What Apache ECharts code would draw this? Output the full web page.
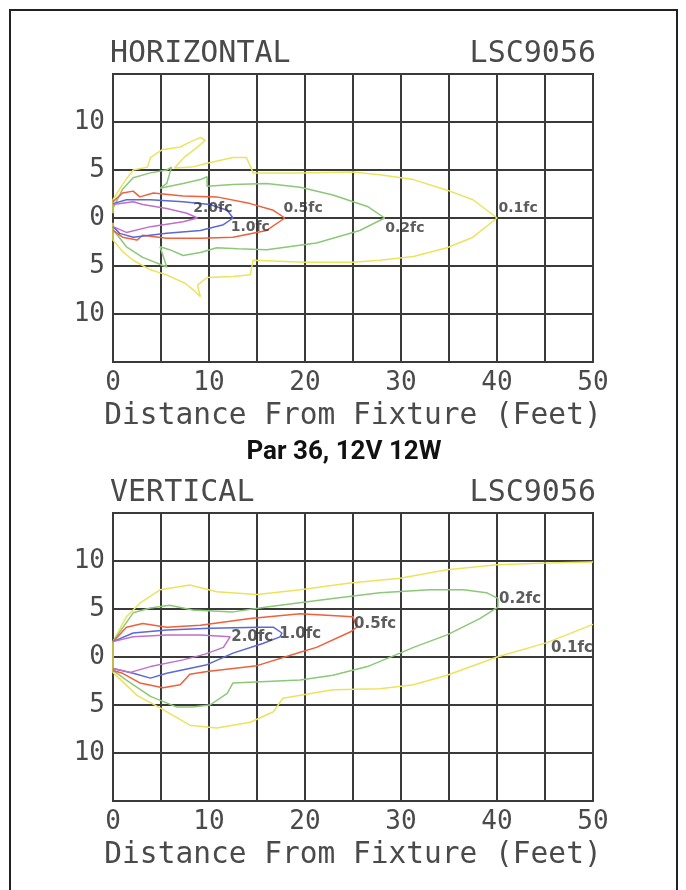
<!DOCTYPE html>
<html>
<head>
<meta charset="utf-8">
<script src="https://cdn.jsdelivr.net/npm/echarts@6/dist/echarts.min.js"></script>
<style>
html,body{margin:0;padding:0;background:#fff;}
#chart{width:686px;height:890px;}
</style>
</head>
<body>
<div id="chart"></div>
<script>
// ---------- DATA ----------
var xTicks = [0, 10, 20, 30, 40, 50];
var yRange = [-15, 15];

// HORIZONTAL (top) contours: upper and lower branches, outward order [distance, offset]
var hYellowUpper = [[0,0.5],[0,1.9],[1.0,3.5],[2.1,5.0],[3.6,5.3],[3.9,6.3],[5.1,7.1],[7.0,7.4],[8.0,7.9],[9.1,8.4],[9.6,8.1],[8.7,7.3],[7.5,6.4],[6.4,5.2],[8.2,5.3],[9.8,5.7],[12.5,6.3],[13.9,6.3],[14.6,4.7],[19.5,4.7],[25.0,4.8],[27.8,4.5],[31.3,4.0],[34.8,2.9],[37.5,1.9],[40.0,0]];
var hYellowLower = [[0,-0.5],[0,-2.3],[1.0,-3.5],[2.1,-4.4],[3.9,-5.4],[5.5,-5.9],[7.5,-6.8],[8.5,-7.6],[9.1,-8.2],[8.8,-7.0],[9.8,-6.2],[12.5,-6.1],[14.3,-5.9],[14.6,-4.4],[20.0,-4.6],[25.0,-4.6],[27.8,-4.4],[31.3,-4.0],[34.8,-3.1],[37.5,-2.0],[40.0,0]];
var hGreenUpper = [[0,1.0],[1.0,3.0],[2.1,4.2],[3.9,4.7],[5.6,5.0],[6.1,5.3],[5.6,3.6],[4.9,3.1],[7.3,3.6],[9.1,4.0],[9.8,4.3],[9.8,3.3],[12.5,3.5],[16.0,3.6],[19.5,3.2],[22.9,2.4],[26.5,1.2],[28.3,0]];
var hGreenLower = [[0,-1.2],[1.4,-3.0],[3.1,-4.1],[5.6,-5.1],[4.9,-3.0],[5.9,-3.3],[7.3,-3.9],[9.1,-3.6],[10.8,-3.1],[13.0,-3.2],[16.0,-3.3],[21.2,-2.6],[25.7,-1.3],[28.3,0]];
var hRedUpper = [[0,1.7],[1.0,2.6],[2.1,2.8],[2.8,2.2],[4.2,2.6],[7.3,2.3],[10.8,2.2],[14.3,1.5],[16.7,0.8],[17.9,0]];
var hRedLower = [[0,-1.3],[1.0,-2.0],[2.5,-2.3],[3.1,-1.8],[5.6,-2.1],[9.1,-2.1],[12.5,-2.0],[16.0,-1.3],[17.9,0]];
var hBlueUpper = [[0,1.5],[1.4,1.9],[3.9,1.9],[7.3,1.7],[10.1,1.4],[11.9,0.8],[12.5,0]];
var hBlueLower = [[0,-0.9],[0.7,-1.6],[2.1,-2.0],[5.6,-1.6],[9.1,-1.3],[11.5,-0.7],[12.5,0]];
var hPurpleUpper = [[0,1.4],[2.1,1.7],[3.1,1.4],[5.6,1.0],[7.7,0.5],[8.8,0]];
var hPurpleLower = [[0,-0.9],[1.4,-1.5],[3.9,-0.9],[7.3,-0.4],[8.8,0]];
var hLabels = [[10.4,1.05,'2.0fc'],[14.3,-0.95,'1.0fc'],[19.8,1.05,'0.5fc'],[30.4,-1.05,'0.2fc'],[42.2,1.05,'0.1fc']];

// VERTICAL (bottom) contours
var vYellowUpper = [[0,1.6],[1.4,4.2],[2.8,5.6],[4.9,7.0],[8.0,7.5],[10.8,6.8],[15.0,6.5],[19.5,7.0],[24.7,7.7],[29.9,8.2],[34.8,9.1],[40.0,9.6],[45.2,9.8],[50.0,9.9]];
var vYellowLower = [[0,-1.6],[2.5,-4.0],[4.9,-5.3],[8.0,-7.1],[10.8,-7.4],[14.3,-6.8],[16.7,-5.7],[17.7,-4.3],[22.9,-3.4],[27.8,-3.3],[31.3,-2.9],[34.8,-1.9],[40.0,0],[45.2,1.5],[50.0,3.4]];
var vGreenUpper = [[0,1.6],[2.1,4.6],[3.9,5.1],[5.9,5.4],[8.3,4.9],[12.5,4.7],[16.0,5.2],[22.9,6.1],[27.8,6.7],[33.0,7.0],[36.5,7.0],[38.9,6.7],[40.1,6.1],[40.1,5.2]];
var vGreenLower = [[0,-1.4],[1.4,-2.4],[3.9,-4.1],[6.6,-5.2],[8.3,-5.2],[10.1,-5.0],[11.9,-3.8],[12.5,-2.7],[19.5,-2.4],[22.9,-1.9],[26.5,-1.0],[29.9,0.4],[31.3,1.0],[34.8,2.3],[38.2,4.0],[40.1,5.2]];
var vRedUpper = [[0,1.6],[1.4,3.1],[3.1,3.5],[5.6,3.1],[9.1,3.3],[14.3,4.0],[19.5,4.5],[25.0,4.2],[25.4,3.1]];
var vRedLower = [[0,-1.4],[1.0,-1.7],[2.8,-2.7],[5.2,-3.2],[7.0,-2.9],[8.0,-1.8],[9.8,-1.5],[15.0,-0.9],[19.5,0.5],[21.2,1.0],[24.7,2.6],[25.4,3.1]];
var vBlueUpper = [[0,1.6],[2.1,2.5],[5.6,2.8],[10.1,3.0],[15.3,3.1],[16.7,3.1],[17.6,2.5],[17.4,2.1]];
var vBlueLower = [[0,-1.2],[2.1,-1.7],[3.9,-2.2],[5.6,-1.7],[9.8,-0.8],[12.5,0.4],[15.6,1.4],[17.4,2.1]];
var vPurpleUpper = [[0,1.6],[2.1,2.1],[5.6,2.3],[9.1,2.3],[12.2,2.1]];
var vPurpleLower = [[0,-1.2],[1.8,-1.6],[3.9,-1.0],[7.3,-0.3],[9.6,0.3],[11.5,1.0],[12.2,2.1]];
var vLabels = [[14.5,2.1,'2.0fc'],[19.5,2.4,'1.0fc'],[27.3,3.4,'0.5fc'],[42.4,6.0,'0.2fc'],[47.8,0.9,'0.1fc']];

// ---------- STYLE ----------
var COL = {yellow:'#ece35c', green:'#8cc878', red:'#f0603c', blue:'#5a68d8', purple:'#c070c8'};
var monoFont = '"DejaVu Sans Mono", "Liberation Mono", monospace';
var gridColor = '#3a3a3a';
var textColor = '#4a4a4a';

function loopUpperFirst(upper, lower) { return upper.concat(lower.slice().reverse()); }
function loopFromUpperEnd(upper, lower) { return upper.slice().reverse().concat(lower); }

function contour(data, color, idx) {
  return {type:'line', xAxisIndex:idx, yAxisIndex:idx, data:data, showSymbol:false, symbol:'none',
    smooth:false, silent:true, clip:true, lineStyle:{color:color, width:1.5}, z:3};
}
function labelSeries(labels, idx, size) {
  return {type:'scatter', xAxisIndex:idx, yAxisIndex:idx, data:labels, symbolSize:0, silent:true,
    itemStyle:{color:'rgba(0,0,0,0)'}, z:5,
    label:{show:true, position:'inside', formatter:function(p){return p.value[2];},
      fontFamily:'"DejaVu Sans", sans-serif', fontWeight:'bold', fontSize:size, color:'#333'}};
}
function xAxisCfg(idx) {
  return {gridIndex:idx, type:'value', min:xTicks[0], max:xTicks[xTicks.length-1], interval:5,
    axisLine:{show:true, lineStyle:{color:gridColor, width:2}}, axisTick:{show:false},
    axisLabel:{margin:8, fontFamily:monoFont, fontSize:26, color:textColor,
      formatter:function(v){return xTicks.indexOf(v) >= 0 ? String(v) : '';}},
    splitLine:{show:true, lineStyle:{color:gridColor, width:2}},
    name:'Distance From Fixture (Feet)', nameLocation:'middle', nameGap:39,
    nameTextStyle:{fontFamily:monoFont, fontSize:29.5, color:textColor}};
}
function yAxisCfg(idx) {
  return {gridIndex:idx, type:'value', min:yRange[0], max:yRange[1], interval:5,
    axisLine:{show:true, lineStyle:{color:gridColor, width:2}}, axisTick:{show:false},
    axisLabel:{margin:8, fontFamily:monoFont, fontSize:26, color:textColor,
      formatter:function(v){var a=Math.abs(v); return a===15 ? '' : String(a);}},
    splitLine:{show:true, lineStyle:{color:gridColor, width:2}}};
}

var chart = echarts.init(document.getElementById('chart'), null, {renderer:'canvas'});
chart.setOption({
  animation:false,
  backgroundColor:'#fff',
  grid:[
    {left:113, top:74, width:480, height:288, show:true, borderColor:gridColor, borderWidth:2},
    {left:113, top:513, width:480, height:288, show:true, borderColor:gridColor, borderWidth:2}
  ],
  xAxis:[xAxisCfg(0), xAxisCfg(1)],
  yAxis:[yAxisCfg(0), yAxisCfg(1)],
  graphic:[
    {type:'rect', shape:{x:10, y:10, width:667, height:900}, style:{fill:'none', stroke:'#222', lineWidth:2}, silent:true},
    {type:'text', x:110, y:54, style:{text:'HORIZONTAL', font:'30px ' + monoFont, fill:textColor, textVerticalAlign:'middle', textAlign:'left'}},
    {type:'text', x:596, y:54, style:{text:'LSC9056', font:'30px ' + monoFont, fill:textColor, textVerticalAlign:'middle', textAlign:'right'}},
    {type:'text', x:344, y:452, style:{text:'Par 36, 12V 12W', font:'bold 26px "Liberation Sans Narrow", "Roboto", sans-serif', fill:'#111', textVerticalAlign:'middle', textAlign:'center'}},
    {type:'text', x:110, y:493, style:{text:'VERTICAL', font:'30px ' + monoFont, fill:textColor, textVerticalAlign:'middle', textAlign:'left'}},
    {type:'text', x:596, y:493, style:{text:'LSC9056', font:'30px ' + monoFont, fill:textColor, textVerticalAlign:'middle', textAlign:'right'}}
  ],
  series:[
    contour(loopUpperFirst(hYellowUpper, hYellowLower), COL.yellow, 0),
    contour(loopUpperFirst(hGreenUpper, hGreenLower), COL.green, 0),
    contour(loopUpperFirst(hRedUpper, hRedLower), COL.red, 0),
    contour(loopUpperFirst(hBlueUpper, hBlueLower), COL.blue, 0),
    contour(loopUpperFirst(hPurpleUpper, hPurpleLower), COL.purple, 0),
    labelSeries(hLabels, 0, 14),
    contour(loopFromUpperEnd(vYellowUpper, vYellowLower), COL.yellow, 1),
    contour(loopUpperFirst(vGreenUpper, vGreenLower), COL.green, 1),
    contour(loopUpperFirst(vRedUpper, vRedLower), COL.red, 1),
    contour(loopUpperFirst(vBlueUpper, vBlueLower), COL.blue, 1),
    contour(loopUpperFirst(vPurpleUpper, vPurpleLower), COL.purple, 1),
    labelSeries(vLabels, 1, 15)
  ]
});
</script>
</body>
</html>
